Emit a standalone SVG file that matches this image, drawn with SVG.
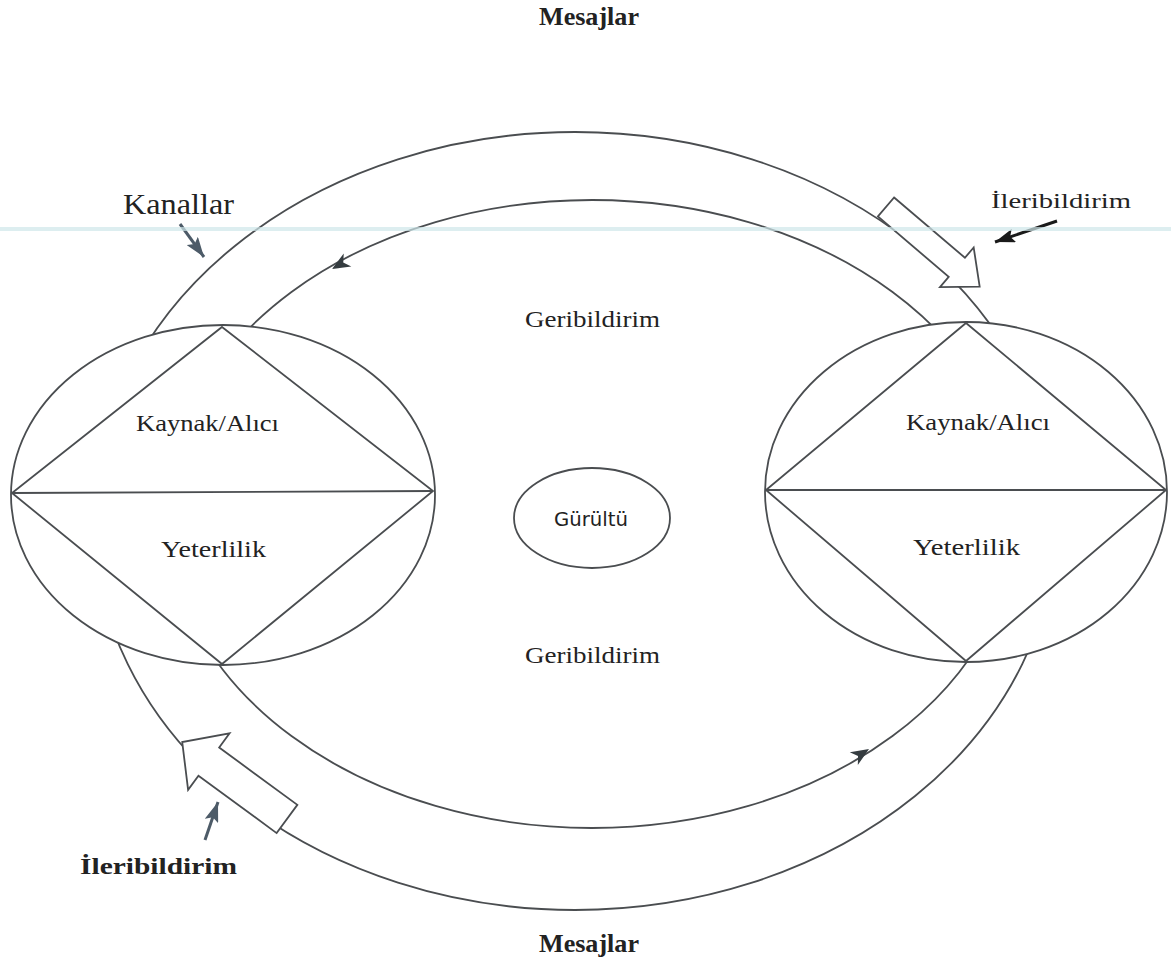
<svg xmlns="http://www.w3.org/2000/svg" width="1171" height="975" viewBox="0 0 1171 975">
<defs>
<style>
.ln{fill:none;stroke:#4a4d50;stroke-width:1.8}
.nd{fill:#fff;stroke:#4a4d50;stroke-width:1.8}
.blk{fill:#fff;stroke:#4a4d50;stroke-width:1.8;stroke-linejoin:miter}
.t{font-family:"Liberation Serif","Times New Roman",serif;fill:#222}
.b{font-weight:bold}
.s{font-family:"DejaVu Sans","Noto Sans",sans-serif;fill:#222}
.ah{fill:#353c40}
.pt{stroke-width:3;fill:none}
</style>
<marker id="mSlate" viewBox="0 0 20 14" refX="20" refY="7" markerWidth="20" markerHeight="14" markerUnits="userSpaceOnUse" orient="auto">
<path d="M0,0 L20,7 L0,14 L4,7 Z" fill="#4d5b68"/>
</marker>
<marker id="mBlack" viewBox="0 0 20 14" refX="20" refY="7" markerWidth="20" markerHeight="14" markerUnits="userSpaceOnUse" orient="auto">
<path d="M0,0 L20,7 L0,14 L4,7 Z" fill="#1a1a1a"/>
</marker>
<path id="head" d="M0,0 L-18,-7.5 L-13,0 L-18,7.5 Z"/>
</defs>
<rect width="1171" height="975" fill="#fff"/>

<g id="connectors">
<ellipse id="outer-channel" class="ln" cx="575" cy="521" rx="481" ry="389"/>
<ellipse id="inner-feedback" class="ln" cx="592" cy="514" rx="425" ry="314"/>
<use href="#head" class="ah" transform="translate(332,269) rotate(149.7)"/>
<use href="#head" class="ah" transform="translate(869,749) rotate(-32.4)"/>
<polygon id="forward-top" class="blk" points="0,-12.5 93,-12.5 93,-26 123,0 93,26 93,12.5 0,12.5" transform="translate(886,207) rotate(40.4)"/>
<polygon id="forward-bottom" class="blk" points="0,-17.5 97,-17.5 97,-35 130,0 97,35 97,17.5 0,17.5" transform="translate(287,819) rotate(216.3)"/>
<line class="pt" stroke="#4d5b68" x1="180" y1="224" x2="204" y2="257" marker-end="url(#mSlate)"/>
<line class="pt" stroke="#1a1a1a" x1="1057" y1="221" x2="995" y2="242" marker-end="url(#mBlack)"/>
<line class="pt" stroke="#4d5b68" x1="205" y1="840" x2="218" y2="802" marker-end="url(#mSlate)"/>
</g>

<g id="node-left">
<ellipse class="nd" cx="223" cy="495" rx="212" ry="170"/>
<polygon class="ln" points="222,327 433,491 222,664 12,493"/>
<line class="ln" x1="12" y1="493" x2="433" y2="491"/>
<text class="t" x="136" y="431" font-size="23" textLength="143" lengthAdjust="spacingAndGlyphs">Kaynak/Alıcı</text>
<text class="t" x="161" y="557" font-size="23" textLength="105" lengthAdjust="spacingAndGlyphs">Yeterlilik</text>
</g>

<g id="node-right">
<ellipse class="nd" cx="966" cy="492" rx="201" ry="170"/>
<polygon class="ln" points="966,323 1166,490 966,661 766,490"/>
<line class="ln" x1="766" y1="490" x2="1166" y2="490"/>
<text class="t" x="906" y="430" font-size="23" textLength="144" lengthAdjust="spacingAndGlyphs">Kaynak/Alıcı</text>
<text class="t" x="913" y="555" font-size="23" textLength="107" lengthAdjust="spacingAndGlyphs">Yeterlilik</text>
</g>

<g id="node-noise">
<ellipse class="nd" cx="592" cy="518" rx="78" ry="50"/>
<text class="s" x="554" y="526" font-size="20" textLength="74" lengthAdjust="spacingAndGlyphs">Gürültü</text>
</g>

<g id="labels">
<text class="t b" x="539" y="25" font-size="25" textLength="100" lengthAdjust="spacingAndGlyphs">Mesajlar</text>
<text class="t b" x="539" y="952" font-size="25" textLength="100" lengthAdjust="spacingAndGlyphs">Mesajlar</text>
<text class="t" x="123" y="214" font-size="29" textLength="111" lengthAdjust="spacingAndGlyphs">Kanallar</text>
<text class="t" x="991" y="208" font-size="22" textLength="140" lengthAdjust="spacingAndGlyphs">İleribildirim</text>
<text class="t b" x="80" y="874" font-size="23" textLength="157" lengthAdjust="spacingAndGlyphs">İleribildirim</text>
<text class="t" x="525" y="327" font-size="24" textLength="135" lengthAdjust="spacingAndGlyphs">Geribildirim</text>
<text class="t" x="525" y="663" font-size="24" textLength="135" lengthAdjust="spacingAndGlyphs">Geribildirim</text>
</g>

<line id="scan-line" x1="0" y1="229" x2="1171" y2="229" stroke="#cfe7ea" stroke-width="4" opacity="0.7"/>
</svg>
